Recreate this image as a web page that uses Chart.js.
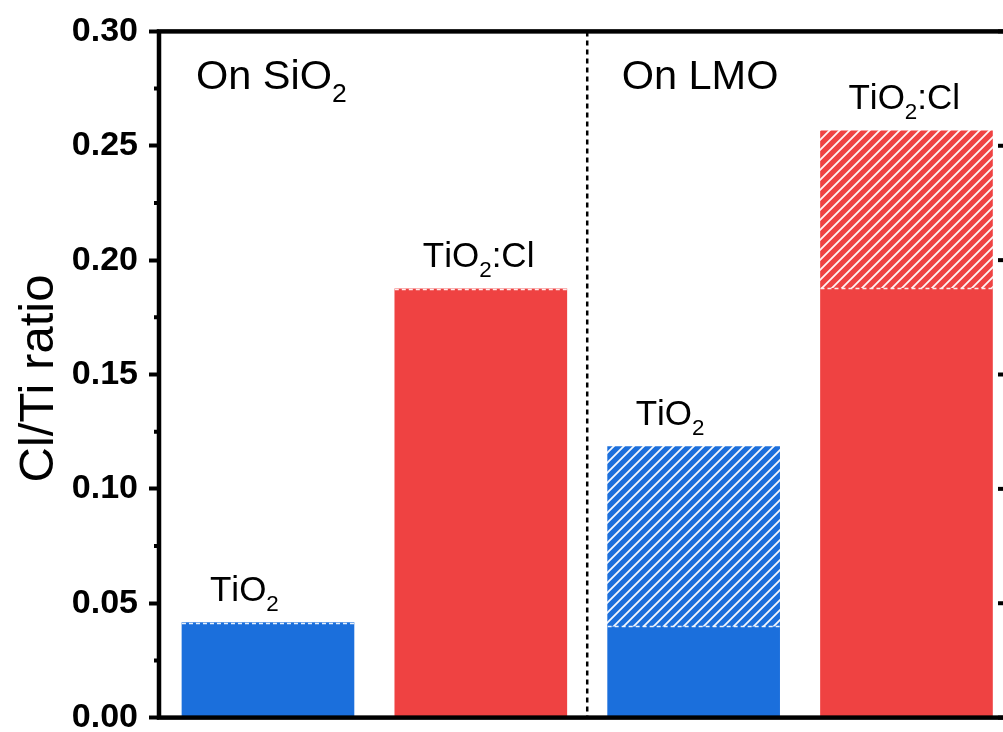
<!DOCTYPE html>
<html><head><meta charset="utf-8">
<style>html,body{margin:0;padding:0;overflow:hidden;background:#fff;width:1003px;height:732px}
canvas{display:block}</style>
<script src="https://cdn.jsdelivr.net/npm/chart.js@4.4.0/dist/chart.umd.min.js"></script>
</head><body>
<canvas id="c" width="1030" height="749"></canvas>
<script>
// ---- data ----
const categories = ['TiO2 on SiO2', 'TiO2:Cl on SiO2', 'TiO2 on LMO', 'TiO2:Cl on LMO'];
const barPositions = [0, 1, 2, 3];
const solidValues = [0.0415, 0.1875, 0.040, 0.188];
const totalValues = [0.0415, 0.1875, 0.1185, 0.2565];
const barLabels = ['TiO2', 'TiO2:Cl', 'TiO2', 'TiO2:Cl'];
const groupLabels = ['On SiO2', 'On LMO'];
const groupFirstBar = [0, 2];
const dividerPositions = [1.5];
const yMin = 0, yMax = 0.30, yStep = 0.05, yMinorStep = 0.025;
const xMin = -0.512, xMax = 3.477;
const yTitle = 'Cl/Ti ratio';

const BLUE = '#1b6fdc', RED = '#ef4242';
const barColors = [BLUE, RED, BLUE, RED];
const FONT = '"Liberation Sans", Arial, sans-serif';
const BAR_W = 172;

const canvas = document.getElementById('c');
const ctx0 = canvas.getContext('2d');
function hatch(color) {
  const s = 10;
  const p = document.createElement('canvas'); p.width = s; p.height = s;
  const g = p.getContext('2d');
  g.fillStyle = color; g.fillRect(0, 0, s, s);
  g.strokeStyle = 'rgba(255,255,255,0.95)'; g.lineWidth = 1.8;
  g.beginPath();
  g.moveTo(-1, s + 1); g.lineTo(s + 1, -1);
  g.moveTo(-s / 2 - 1, s / 2 + 1); g.lineTo(s / 2 + 1, -s / 2 - 1);
  g.moveTo(s / 2 - 1, s * 1.5 + 1); g.lineTo(s * 1.5 + 1, s / 2 - 1);
  g.stroke();
  return ctx0.createPattern(p, 'repeat');
}

function drawChem(ctx, text, x, y, size) {
  const sub = size * 0.64, off = size * 0.3;
  let cx = x;
  for (let i = 0; i < text.length; i++) {
    const ch = text[i];
    const isSub = /[0-9]/.test(ch) && i > 0 && /[A-Za-z]/.test(text[i - 1]);
    ctx.font = (isSub ? sub : size) + 'px ' + FONT;
    ctx.fillText(ch, cx, isSub ? y + off : y);
    cx += ctx.measureText(ch).width;
  }
}

const decor = {
  id: 'decor',
  afterDatasetsDraw(chart) {
    const ctx = chart.ctx, xs = chart.scales.x, ys = chart.scales.y, a = chart.chartArea;
    ctx.save();
    // dashed white lines at top of the solid part
    ctx.strokeStyle = 'rgba(255,255,255,0.9)'; ctx.lineWidth = 1.6; ctx.setLineDash([4, 3]);
    barPositions.forEach((p, i) => {
      const cx = xs.getPixelForValue(p), y = Math.round(ys.getPixelForValue(solidValues[i])) + 0.5;
      ctx.beginPath(); ctx.moveTo(cx - BAR_W / 2, y); ctx.lineTo(cx + BAR_W / 2, y); ctx.stroke();
    });
    // divider
    ctx.strokeStyle = '#000'; ctx.lineWidth = 2.5; ctx.setLineDash([5, 4]);
    dividerPositions.forEach(p => {
      const x = xs.getPixelForValue(p);
      ctx.beginPath(); ctx.moveTo(x, a.top); ctx.lineTo(x, a.bottom); ctx.stroke();
    });
    ctx.setLineDash([]);
    // bar labels
    ctx.fillStyle = '#000'; ctx.textBaseline = 'alphabetic'; ctx.textAlign = 'left';
    barPositions.forEach((p, i) => {
      const left = xs.getPixelForValue(p) - BAR_W / 2;
      drawChem(ctx, barLabels[i], left + 28, ys.getPixelForValue(totalValues[i]) - 22, 35);
    });
    // group labels
    groupLabels.forEach((t, g) => {
      const left = xs.getPixelForValue(barPositions[groupFirstBar[g]]) - BAR_W / 2;
      drawChem(ctx, t, left + 14, a.top + 58, 41.5);
    });
    // frame
    ctx.strokeStyle = '#000'; ctx.lineWidth = 4.5;
    ctx.strokeRect(a.left, a.top, a.right - a.left, a.bottom - a.top);
    // minor ticks (left) and right ticks
    ctx.lineWidth = 4;
    for (let v = yMin; v <= yMax + 1e-9; v += yMinorStep) {
      const y = ys.getPixelForValue(v);
      const major = Math.abs(v / yStep - Math.round(v / yStep)) < 1e-6;
      ctx.beginPath();
      if (!major) { ctx.moveTo(a.left, y); ctx.lineTo(a.left - 5, y); }
      ctx.moveTo(a.right, y); ctx.lineTo(a.right - (major ? 10 : 5), y);
      ctx.stroke();
    }
    // y title
    ctx.save();
    ctx.translate(53, (a.top + a.bottom) / 2 + 4);
    ctx.rotate(-Math.PI / 2);
    ctx.font = '49px ' + FONT; ctx.textAlign = 'center'; ctx.textBaseline = 'alphabetic';
    ctx.fillText(yTitle, 0, 0);
    ctx.restore();
    ctx.restore();
  }
};

new Chart(canvas, {
  type: 'bar',
  data: {
    labels: categories,
    datasets: [
      {
        label: 'solid',
        data: barPositions.map((x, i) => ({ x, y: solidValues[i] })),
        backgroundColor: barColors,
        barThickness: BAR_W, grouped: false, order: 2
      },
      {
        label: 'hatched',
        data: barPositions.map((x, i) => ({ x, y: totalValues[i] > solidValues[i] ? [solidValues[i], totalValues[i]] : null })),
        backgroundColor: barColors.map(hatch),
        barThickness: BAR_W, grouped: false, order: 1
      }
    ]
  },
  options: {
    responsive: false, animation: false, devicePixelRatio: 1,
    layout: { padding: { top: 30, bottom: 0, left: 0, right: 22 } },
    plugins: { legend: { display: false }, tooltip: { enabled: false } },
    scales: {
      x: { type: 'linear', min: xMin, max: xMax, display: false, offset: false },
      y: {
        min: yMin, max: yMax,
        afterFit(s) { s.width = 159; },
        border: { display: false },
        grid: { display: true, drawOnChartArea: false, drawTicks: true, tickLength: 10, tickWidth: 4, tickColor: '#000' },
        ticks: {
          stepSize: yStep, padding: 11, color: '#000',
          font: { family: FONT, size: 34, weight: 'bold' },
          callback: v => v.toFixed(2)
        }
      }
    }
  },
  plugins: [decor]
});
</script>
</body></html>
